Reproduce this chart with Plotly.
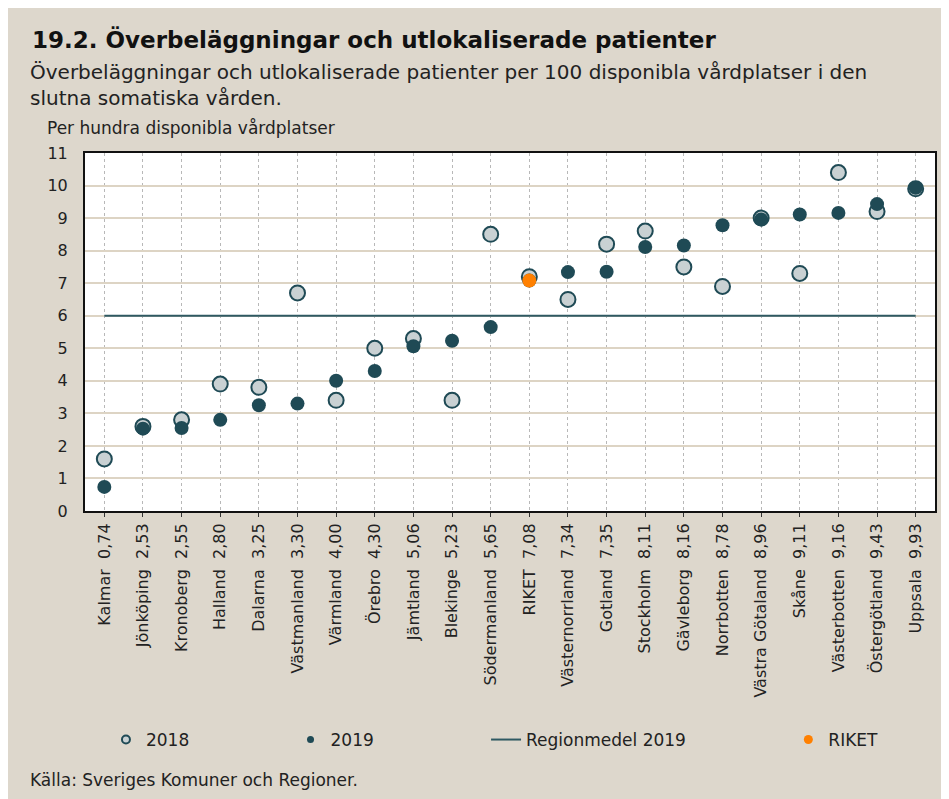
import plotly.graph_objects as go

regions = ["Kalmar", "Jönköping", "Kronoberg", "Halland", "Dalarna", "Västmanland",
           "Värmland", "Örebro", "Jämtland", "Blekinge", "Södermanland", "RIKET",
           "Västernorrland", "Gotland", "Stockholm", "Gävleborg", "Norrbotten",
           "Västra Götaland", "Skåne", "Västerbotten", "Östergötland", "Uppsala"]
values_2019 = [0.74, 2.53, 2.55, 2.80, 3.25, 3.30, 4.00, 4.30, 5.06, 5.23, 5.65, 7.08,
               7.34, 7.35, 8.11, 8.16, 8.78, 8.96, 9.11, 9.16, 9.43, 9.93]
values_2018 = [1.6, 2.6, 2.8, 3.9, 3.8, 6.7, 3.4, 5.0, 5.3, 3.4, 8.5, 7.2,
               6.5, 8.2, 8.6, 7.5, 6.9, 9.0, 7.3, 10.4, 9.2, 9.9]
tick_labels = [f"{r}  {v:.2f}".replace(".", ",") for r, v in zip(regions, values_2019)]
region_mean_2019 = 6.0
riket_name = "RIKET"
riket_value = 7.08

BG = "#ddd7cc"
TEAL = "#1f4a55"
LINE = "#2e5962"
RING_FILL = "#c9d1d3"
ORANGE = "#ff8000"
FONT = "DejaVu Sans"

x = list(range(len(regions)))
fig = go.Figure()

fig.add_trace(go.Scatter(x=[x[0], x[-1]], y=[region_mean_2019] * 2, mode="lines",
                         line=dict(color=LINE, width=2), showlegend=False, hoverinfo="skip"))
fig.add_trace(go.Scatter(x=x, y=values_2018, mode="markers",
                         marker=dict(size=15, color=RING_FILL, line=dict(color=TEAL, width=2)),
                         showlegend=False))
fig.add_trace(go.Scatter(x=x, y=values_2019, mode="markers",
                         marker=dict(size=14, color=TEAL, line=dict(width=0)),
                         showlegend=False))
fig.add_trace(go.Scatter(x=[regions.index(riket_name)], y=[riket_value], mode="markers",
                         marker=dict(size=14, color=ORANGE, line=dict(width=0)),
                         showlegend=False))

# legend-only entries, each in its own legend so they can be spaced like the reference
fig.add_trace(go.Scatter(x=[None], y=[None], mode="markers", name="2018", legend="legend",
                         marker=dict(size=8, color=RING_FILL, line=dict(color=TEAL, width=2))))
fig.add_trace(go.Scatter(x=[None], y=[None], mode="markers", name="2019", legend="legend2",
                         marker=dict(size=7, color=TEAL)))
fig.add_trace(go.Scatter(x=[None], y=[None], mode="lines", name="Regionmedel 2019", legend="legend3",
                         line=dict(color=LINE, width=2)))
fig.add_trace(go.Scatter(x=[None], y=[None], mode="markers", name="RIKET", legend="legend4",
                         marker=dict(size=9, color=ORANGE)))

# reference-image pixel geometry (page body adds an 8px offset)
OFF = 8
PL, PR, PT, PB = 85, 937, 153, 511
W, H = 949 - OFF, 799 - OFF
pw, ph = PR - PL, PB - PT


def px_x(p):
    return (p - PL) / pw


def px_y(p):
    return (PB - p) / ph


def leg(xpos):
    return dict(orientation="h", x=px_x(xpos), xanchor="left", y=px_y(740), yanchor="middle",
                bgcolor="rgba(0,0,0,0)", font=dict(size=17, family=FONT, color="#222222"),
                borderwidth=0)


fig.update_layout(
    width=W, height=H,
    margin=dict(l=PL - OFF, r=W - (PR - OFF), t=PT - OFF, b=H - (PB - OFF)),
    paper_bgcolor=BG, plot_bgcolor="white",
    font=dict(family=FONT, color="#1a1a1a", size=14),
    showlegend=True,
    legend=leg(106), legend2=leg(291), legend3=leg(487), legend4=leg(790),
    xaxis=dict(range=[-0.5, len(regions) - 0.5], tickmode="array", tickvals=x,
               ticktext=tick_labels, tickangle=-90, tickfont=dict(size=16, family=FONT, color="#222222"),
               showgrid=True, gridcolor="#b8b8b8", griddash="dot", gridwidth=1,
               showline=True, linecolor="#111111", linewidth=2, mirror=True,
               ticks="outside", ticklen=4, tickcolor="#333333", zeroline=False),
    yaxis=dict(range=[0, 11], tickmode="linear", dtick=1, tick0=0,
               tickfont=dict(size=16, family=FONT, color="#222222"),
               showgrid=True, gridcolor="#ddd4c4", gridwidth=2,
               showline=True, linecolor="#111111", linewidth=2, mirror=True,
               ticks="", ticklabelstandoff=12, zeroline=False),
    annotations=[
        dict(text="<b>19.2. Överbeläggningar och utlokaliserade patienter</b>",
             xref="paper", yref="paper", x=px_x(30), y=px_y(39), xanchor="left", yanchor="middle",
             showarrow=False, font=dict(size=23, family=FONT, color="#111111")),
        dict(text="Överbeläggningar och utlokaliserade patienter per 100 disponibla vårdplatser i den<br>slutna somatiska vården.",
             xref="paper", yref="paper", x=px_x(28), y=px_y(85), xanchor="left", yanchor="middle",
             align="left", showarrow=False, font=dict(size=20, family=FONT, color="#222222")),
        dict(text="Per hundra disponibla vårdplatser",
             xref="paper", yref="paper", x=px_x(45), y=px_y(128), xanchor="left", yanchor="middle",
             showarrow=False, font=dict(size=17, family=FONT, color="#222222")),
        dict(text="Källa: Sveriges Komuner och Regioner.",
             xref="paper", yref="paper", x=px_x(28), y=px_y(780), xanchor="left", yanchor="middle",
             showarrow=False, font=dict(size=17, family=FONT, color="#222222")),
    ],
)

fig.write_html("out.html")
